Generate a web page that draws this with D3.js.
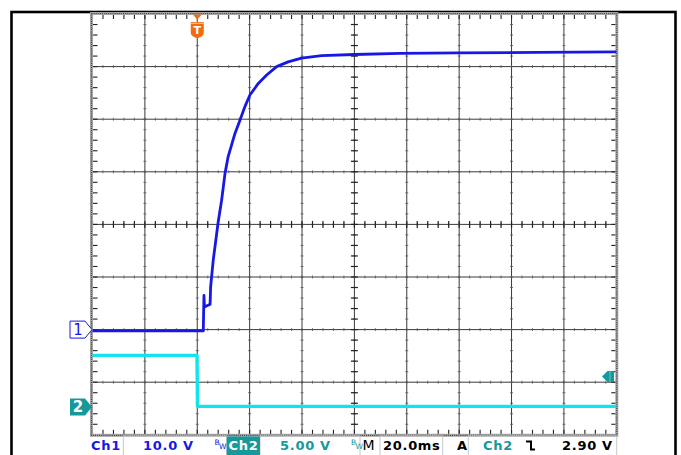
<!DOCTYPE html>
<html>
<head>
<meta charset="utf-8">
<script src="https://cdn.jsdelivr.net/npm/d3@7"></script>
<style>
  html, body { margin: 0; padding: 0; background: #fff; }
  svg { display: block; }
  text { font-family: "DejaVu Sans", sans-serif; }
</style>
</head>
<body>
<svg id="scope" width="681" height="455"></svg>
<script>
// Acquisition settings
const timePerDiv = 20;          // ms/div
const triggerTime = 0;          // ms
const preTriggerDiv = 2;        // divisions shown before the trigger
const ch1VoltsPerDiv = 10;
const ch2VoltsPerDiv = 5;
const ch1OffsetDiv = -2;        // ground position, divisions from centre
const ch2OffsetDiv = -3.47;
const triggerLevel = 2.9;       // V on Ch2

// Ch1: output voltage (ms, V)
const ch1Time  = [-40, 2.3, 2.56, 2.75, 4.9, 5.1, 6.1, 8.0, 9.3, 10.6, 11.8, 14.4, 16.3, 18.2, 20.1, 23.3, 26.5, 30.3, 34.7, 39.8, 47.5, 60, 77.4, 100, 130, 160];
const ch1Volts = [-0.25, -0.25, 6.5, 4.3, 4.8, 8.1, 13.2, 20.5, 24.6, 29.7, 32.9, 37.3, 39.8, 42.4, 44.6, 46.8, 48.4, 50.0, 50.9, 51.6, 52.1, 52.3, 52.5, 52.6, 52.7, 52.8];

// Ch2: control signal (ms, V)
const ch2Time  = [-40, -0.1, 0.1, 160];
const ch2Volts = [4.9, 4.9, 0.05, 0.05];

// Readout strip
const readCh1Label = "Ch1", readCh1Scale = "10.0 V";
const readCh2Label = "Ch2", readCh2Scale = "5.00 V";
const readTimeLabel = "M", readTimeScale = "20.0ms";
const readTrigLabel = "A", readTrigSource = "Ch2", readTrigLevel = "2.90 V";

const blue = "#1818e6", cyan = "#12e4ee", teal = "#15999b", orange = "#f26b12";

const svg = d3.select("#scope");
const gLeft = 92.5, gRight = 616.3, gTop = 14, gBottom = 434.8;
const nx = 10, ny = 8;
const divW = (gRight - gLeft) / nx, divH = (gBottom - gTop) / ny;

const x = d3.scaleLinear()
  .domain([triggerTime - preTriggerDiv * timePerDiv, triggerTime + (nx - preTriggerDiv) * timePerDiv])
  .range([gLeft, gRight]);
const y1 = d3.scaleLinear()
  .domain([(-ny / 2 - ch1OffsetDiv) * ch1VoltsPerDiv, (ny / 2 - ch1OffsetDiv) * ch1VoltsPerDiv])
  .range([gBottom, gTop]);
const y2 = d3.scaleLinear()
  .domain([(-ny / 2 - ch2OffsetDiv) * ch2VoltsPerDiv, (ny / 2 - ch2OffsetDiv) * ch2VoltsPerDiv])
  .range([gBottom, gTop]);

// outer frame
svg.append("rect").attr("x", 11.5).attr("y", 12).attr("width", 664).attr("height", 470)
  .attr("fill", "none").attr("stroke", "#000").attr("stroke-width", 2.6);

// graticule
const g = svg.append("g");
const vLines = d3.range(1, nx).map(i => gLeft + i * divW);
const hLines = d3.range(1, ny).map(i => gTop + i * divH);
g.selectAll("line.v").data(vLines).join("line")
  .attr("x1", d => d).attr("x2", d => d).attr("y1", gTop).attr("y2", gBottom)
  .attr("stroke", "#3a3a3a").attr("stroke-width", 1);
g.selectAll("line.h").data(hLines).join("line")
  .attr("x1", gLeft).attr("x2", gRight).attr("y1", d => d).attr("y2", d => d)
  .attr("stroke", "#3a3a3a").attr("stroke-width", 1);

// tiny tick dots on every grid line
const minorX = d3.range(0, nx * 5 + 1).map(i => gLeft + i * divW / 5);
const minorY = d3.range(0, ny * 5 + 1).map(i => gTop + i * divH / 5);
vLines.forEach(vx => {
  g.selectAll(null).data(minorY).join("line")
    .attr("x1", vx - 1.5).attr("x2", vx + 1.5).attr("y1", d => d).attr("y2", d => d)
    .attr("stroke", "#555").attr("stroke-width", 0.8);
});
hLines.forEach(hy => {
  g.selectAll(null).data(minorX).join("line")
    .attr("x1", d => d).attr("x2", d => d).attr("y1", hy - 1.5).attr("y2", hy + 1.5)
    .attr("stroke", "#555").attr("stroke-width", 0.8);
});

// centre cross ticks
const cx = gLeft + 5 * divW, cy = gTop + 4 * divH;
g.selectAll(null).data(minorX).join("line")
  .attr("x1", d => d).attr("x2", d => d).attr("y1", cy - 3.5).attr("y2", cy + 3.5)
  .attr("stroke", "#222").attr("stroke-width", 1.2);
g.selectAll(null).data(minorY).join("line")
  .attr("x1", cx - 3.5).attr("x2", cx + 3.5).attr("y1", d => d).attr("y2", d => d)
  .attr("stroke", "#222").attr("stroke-width", 1.2);

// edge ticks
g.selectAll(null).data(minorX).join("line")
  .attr("x1", d => d).attr("x2", d => d).attr("y1", gTop).attr("y2", gTop + 5)
  .attr("stroke", "#222").attr("stroke-width", 1.1);
g.selectAll(null).data(minorX).join("line")
  .attr("x1", d => d).attr("x2", d => d).attr("y1", gBottom - 5).attr("y2", gBottom)
  .attr("stroke", "#222").attr("stroke-width", 1.1);
g.selectAll(null).data(minorY).join("line")
  .attr("x1", gLeft).attr("x2", gLeft + 5).attr("y1", d => d).attr("y2", d => d)
  .attr("stroke", "#222").attr("stroke-width", 1.1);
g.selectAll(null).data(minorY).join("line")
  .attr("x1", gRight - 5).attr("x2", gRight).attr("y1", d => d).attr("y2", d => d)
  .attr("stroke", "#222").attr("stroke-width", 1.1);

// graticule border
g.append("rect").attr("x", gLeft - 1).attr("y", gTop - 0.5).attr("width", gRight - gLeft + 1.5).attr("height", gBottom - gTop + 1)
  .attr("fill", "none").attr("stroke", "#a6a6a6").attr("stroke-width", 3);
g.append("rect").attr("x", gLeft - 1).attr("y", gTop - 0.5).attr("width", gRight - gLeft + 1.5).attr("height", gBottom - gTop + 1)
  .attr("fill", "none").attr("stroke", "#444").attr("stroke-width", 1.2).attr("stroke-dasharray", "1 1.1");

// traces
const line1 = d3.line().x((d, i) => x(ch1Time[i])).y(d => y1(d));
const line2 = d3.line().x((d, i) => x(ch2Time[i])).y(d => y2(d));
svg.append("path").attr("d", line2(ch2Volts)).attr("fill", "none")
  .attr("stroke", cyan).attr("stroke-width", 3.4).attr("stroke-linejoin", "round");
svg.append("path").attr("d", line1(ch1Volts)).attr("fill", "none")
  .attr("stroke", blue).attr("stroke-width", 2.8).attr("stroke-linejoin", "round");

// channel ground markers
const m1y = y1(0), m2y = y2(0);
svg.append("path")
  .attr("d", `M70,${m1y - 8.5} H85 L92,${m1y} L85,${m1y + 8.5} H70 Z`)
  .attr("fill", "#fff").attr("stroke", blue).attr("stroke-width", 1);
svg.append("text").attr("x", 78).attr("y", m1y + 5.5).attr("text-anchor", "middle")
  .attr("font-size", 15).attr("fill", blue).text("1");
svg.append("path")
  .attr("d", `M70,${m2y - 8.5} H85 L92,${m2y} L85,${m2y + 8.5} H70 Z`)
  .attr("fill", teal);
svg.append("text").attr("x", 78).attr("y", m2y + 5.5).attr("text-anchor", "middle")
  .attr("font-size", 15).attr("font-weight", "bold").attr("fill", "#fff").text("2");

// trigger position marker
const tx = x(triggerTime);
svg.append("path").attr("d", `M${tx - 4.5},14.5 H${tx + 4.5} L${tx},19.5 Z`).attr("fill", orange);
svg.append("path")
  .attr("d", `M${tx - 6.5},22 H${tx + 6.5} V33 Q${tx + 6.5},35 ${tx + 4},36.5 L${tx},38.5 L${tx - 4},36.5 Q${tx - 6.5},35 ${tx - 6.5},33 Z`)
  .attr("fill", orange);
svg.append("line").attr("x1", tx - 6.5).attr("x2", tx + 6.5).attr("y1", 23.3).attr("y2", 23.3)
  .attr("stroke", "#fbd0b0").attr("stroke-width", 1);
svg.append("text").attr("x", tx).attr("y", 34).attr("text-anchor", "middle")
  .attr("font-size", 11).attr("font-weight", "bold").attr("fill", "#fff").text("T");

// trigger level marker
const ty = y2(triggerLevel);
svg.append("path").attr("d", `M614,${ty - 5.5} H607.5 L602,${ty} L607.5,${ty + 5.5} H614 Z`).attr("fill", teal);
svg.append("line").attr("x1", 610).attr("x2", 610).attr("y1", ty - 5.5).attr("y2", ty + 5.5)
  .attr("stroke", "#7fd0d0").attr("stroke-width", 0.8);

// readout strip
const r = svg.append("g").attr("font-size", 13).attr("font-weight", "bold").attr("letter-spacing", 0.7);
const base = 450;
const boxStroke = "#c8c8c8";
[[123.3, 226.7], [260, 360], [380, 442.7], [468.3, 616.7]].forEach(([a, b]) => {
  r.append("rect").attr("x", a).attr("y", 436).attr("width", b - a).attr("height", 22)
    .attr("fill", "none").attr("stroke", boxStroke).attr("stroke-width", 1);
});
r.append("rect").attr("x", 226.7).attr("y", 436.5).attr("width", 33.3).attr("height", 19).attr("fill", teal);

r.append("text").attr("x", 91).attr("y", base).attr("fill", blue).text(readCh1Label);
r.append("text").attr("x", 143).attr("y", base).attr("fill", blue).text(readCh1Scale);
r.append("text").attr("x", 228.5).attr("y", base).attr("fill", "#fff").text(readCh2Label);
r.append("text").attr("x", 280).attr("y", base).attr("fill", teal).text(readCh2Scale);
r.append("text").attr("x", 362.5).attr("y", base).attr("fill", "#000").attr("font-weight", "normal").attr("font-size", 14).text(readTimeLabel);
r.append("text").attr("x", 383).attr("y", base).attr("fill", "#000").text(readTimeScale);
r.append("text").attr("x", 457).attr("y", base).attr("fill", "#000").text(readTrigLabel);
r.append("text").attr("x", 483).attr("y", base).attr("fill", teal).text(readTrigSource);
r.append("text").attr("x", 562).attr("y", base).attr("fill", "#000").text(readTrigLevel);

// bandwidth-limit badges
[[214.5, blue], [351, teal]].forEach(([bx, c]) => {
  const t = r.append("text").attr("x", bx).attr("y", 445).attr("font-size", 7.5)
    .attr("font-weight", "normal").attr("letter-spacing", -0.5).attr("fill", c);
  t.append("tspan").text("B");
  t.append("tspan").attr("dy", 4).text("W");
});

// falling-edge slope symbol
r.append("path").attr("d", "M526,441.5 H531 V449.5 H535").attr("fill", "none")
  .attr("stroke", "#000").attr("stroke-width", 2);
</script>
</body>
</html>
